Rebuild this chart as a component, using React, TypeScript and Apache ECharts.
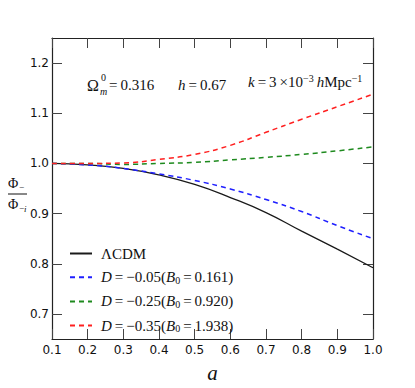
import React, { useEffect, useRef } from "react";
import * as echarts from "echarts";

const aValues = [0.1, 0.2, 0.3, 0.4, 0.5, 0.6, 0.7, 0.8, 0.9, 1.0];
const lcdm = [1.0, 0.997, 0.99, 0.977, 0.958, 0.932, 0.902, 0.865, 0.829, 0.792];
const d005 = [1.0, 0.997, 0.99, 0.979, 0.966, 0.949, 0.928, 0.904, 0.876, 0.85];
const d025 = [1.0, 1.0, 0.998, 1.0, 1.002, 1.007, 1.012, 1.018, 1.025, 1.033];
const d035 = [1.0, 1.0, 1.001, 1.008, 1.018, 1.036, 1.062, 1.088, 1.113, 1.138];
const xTicks = [0.1, 0.2, 0.3, 0.4, 0.5, 0.6, 0.7, 0.8, 0.9, 1.0];
const yTicks = [0.7, 0.8, 0.9, 1.0, 1.1, 1.2];
const seriesNames = ["lcdm", "d005", "d025", "d035"];
const legendLabels: Record<string, string> = {
  lcdm: "ΛCDM",
  d005: "{i|D}\u2009=\u2009−0.05({i|B}{s|0}\u2009=\u20090.161)",
  d025: "{i|D}\u2009=\u2009−0.25({i|B}{s|0}\u2009=\u20090.920)",
  d035: "{i|D}\u2009=\u2009−0.35({i|B}{s|0}\u2009=\u20091.938)",
};

const SERIF = "'Liberation Serif', 'DejaVu Serif', serif";
const SANS = "'DejaVu Sans', sans-serif";

export default function App() {
  const ref = useRef<HTMLDivElement>(null);
  useEffect(() => {
    if (!ref.current) return;
    const chart = echarts.init(ref.current, null, { renderer: "svg" });
    const mk = (vals: number[]) => aValues.map((a, i) => [a, vals[i]]);
    const lineBase = (name: string, vals: number[], color: string, dashed: boolean) => ({
      name,
      type: "line",
      data: mk(vals),
      smooth: true,
      symbol: "none",
      xAxisIndex: 0,
      yAxisIndex: 0,
      lineStyle: { color, width: dashed ? 1.5 : 1.3, type: dashed ? [5, 4] : "solid" },
      itemStyle: { color },
    });
    const axisCommon = {
      axisLine: { show: true, onZero: false, lineStyle: { color: "#222", width: 1.2 } },
      splitLine: { show: false },
    };
    const txt = (left: number, top: number, text: string, size: number, italic = false) => ({
      type: "text",
      left,
      top,
      style: {
        text,
        fontFamily: SERIF,
        fontSize: size,
        fontStyle: italic ? "italic" : "normal",
        fill: "#111",
      },
    });
    chart.setOption({
      animation: false,
      backgroundColor: "#fff",
      grid: { left: 52, right: 42, top: 38, bottom: 40, containLabel: false },
      xAxis: [
        {
          type: "value",
          min: 0.1,
          max: 1.0,
          position: "bottom",
          ...axisCommon,
          axisTick: { show: true, inside: true, length: 10, customValues: xTicks, lineStyle: { color: "#444", width: 1 } },
          axisLabel: {
            customValues: xTicks,
            formatter: (v: number) => v.toFixed(1),
            fontFamily: SANS,
            fontSize: 12,
            color: "#111",
            margin: 5,
          },
          name: "a",
          nameLocation: "middle",
          nameGap: 23,
          nameTextStyle: { fontFamily: SERIF, fontStyle: "italic", fontSize: 21, color: "#111" },
        },
        {
          type: "value",
          min: 0.1,
          max: 1.0,
          position: "top",
          ...axisCommon,
          axisTick: { show: true, inside: true, length: 10, customValues: xTicks, lineStyle: { color: "#444", width: 1 } },
          axisLabel: { show: false },
        },
      ],
      yAxis: [
        {
          type: "value",
          min: 0.65,
          max: 1.25,
          position: "left",
          ...axisCommon,
          axisTick: { show: true, inside: true, length: 10, customValues: yTicks, lineStyle: { color: "#444", width: 1 } },
          axisLabel: {
            customValues: yTicks,
            formatter: (v: number) => v.toFixed(1),
            fontFamily: SANS,
            fontSize: 12,
            color: "#111",
            margin: 3,
          },
        },
        {
          type: "value",
          min: 0.65,
          max: 1.25,
          position: "right",
          ...axisCommon,
          axisTick: { show: true, inside: true, length: 10, customValues: yTicks, lineStyle: { color: "#444", width: 1 } },
          axisLabel: { show: false },
        },
      ],
      legend: {
        data: seriesNames,
        orient: "vertical",
        left: 64,
        top: 241,
        itemWidth: 22,
        itemHeight: 10,
        itemGap: 8.7,
        itemStyle: { opacity: 0 },
        formatter: (name: string) => legendLabels[name],
        textStyle: {
          fontFamily: SERIF,
          fontSize: 15,
          color: "#111",
          padding: [0, 0, 0, 4],
          rich: {
            i: { fontFamily: SERIF, fontStyle: "italic", fontSize: 15, color: "#111" },
            s: { fontFamily: SERIF, fontSize: 10, color: "#111", padding: [6, 0, 0, 0] },
          },
        },
      },
      graphic: [
        txt(87, 77, "Ω", 16),
        txt(101, 72, "0", 10),
        txt(100, 86, "m", 10, true),
        txt(109, 77, "=\u20090.316", 15),
        {
          type: "text",
          left: 178,
          top: 77,
          style: {
            text: "{i|h}\u2009=\u20090.67",
            fontFamily: SERIF,
            fontSize: 15,
            fill: "#111",
            rich: { i: { fontFamily: SERIF, fontStyle: "italic", fontSize: 15 } },
          },
        },
        {
          type: "text",
          left: 248,
          top: 73,
          style: {
            text: "{i|k}\u2009=\u20093\u2009×10{sup|−3}\u2009{i|h}Mpc{sup|−1}",
            fontFamily: SERIF,
            fontSize: 15,
            fill: "#111",
            rich: {
              i: { fontFamily: SERIF, fontStyle: "italic", fontSize: 15 },
              sup: { fontFamily: SERIF, fontSize: 10, padding: [0, 0, 8, 0] },
            },
          },
        },
        txt(8, 176, "Φ", 14),
        txt(19, 182, "−", 9),
        {
          type: "line",
          shape: { x1: 7, y1: 194, x2: 27, y2: 194 },
          style: { stroke: "#111", lineWidth: 1 },
        },
        txt(8, 197, "Φ", 14),
        txt(19, 203, "−", 9),
        txt(24, 204, "i", 9, true),
      ],
      series: [
        lineBase("lcdm", lcdm, "#1a1a1a", false),
        lineBase("d005", d005, "#1f1fff", true),
        lineBase("d025", d025, "#1e8a1e", true),
        lineBase("d035", d035, "#ff2020", true),
      ],
    });
    return () => chart.dispose();
  }, []);
  return <div ref={ref} style={{ width: 415, height: 388, margin: -8 }} />;
}
